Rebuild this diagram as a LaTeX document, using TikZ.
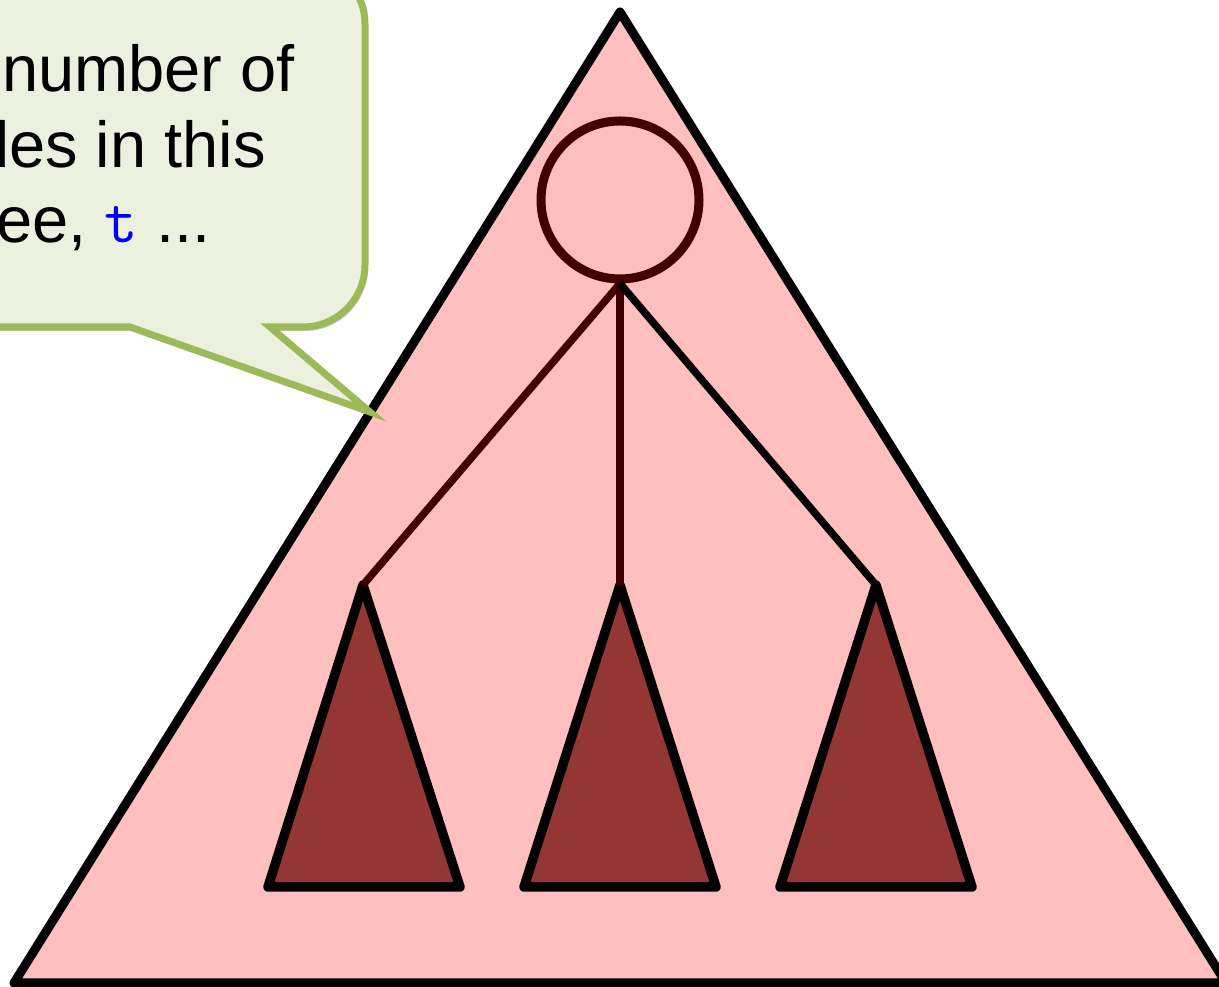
\documentclass[tikz,border=0pt]{standalone}
\usepackage{fontspec}
\setmainfont{Liberation Sans}
\usetikzlibrary{shadows}
\definecolor{pinkfill}{HTML}{FFBFBF}
\definecolor{subfill}{HTML}{943634}
\definecolor{darkbrown}{HTML}{400000}
\definecolor{calloutfill}{HTML}{EBF1DE}
\definecolor{calloutline}{HTML}{9BBB59}
\definecolor{codeblue}{HTML}{0000FF}
\tikzset{
  bigtree/.style={draw=black, fill=pinkfill, line width=9pt, line join=round},
  subtree/.style={draw=black, fill=subfill, line width=9.5pt, line join=round},
  rootnode/.style={circle, draw=darkbrown, fill=pinkfill, line width=9pt, minimum size=158pt, inner sep=0pt},
  edgebrown/.style={draw=darkbrown, line width=7.5pt},
  edgeblack/.style={draw=black, line width=7.5pt},
  callout/.style={draw=calloutline, fill=calloutfill, line width=7pt, line join=miter},
  callouttext/.style={anchor=base west, inner sep=0pt, font=\fontsize{65}{75}\selectfont}
}
\begin{document}
\begin{tikzpicture}[x=1pt,y=1pt]
\useasboundingbox (0,0) rectangle (1219,987);
% big triangle
\coordinate (top) at (620,975);
\coordinate (bl) at (14,4);
\coordinate (br) at (1226,4);
\path[bigtree] (top) -- (bl) -- (br) -- cycle;
% callout
\coordinate (tip) at (370,575);
\path[callout, drop shadow={shadow xshift=2pt, shadow yshift=-4pt, opacity=0.35, fill=black!60}]
  (-60,1025) -- (303,1025) arc[start angle=90, end angle=0, radius=62pt]
  -- (365,722) arc[start angle=0, end angle=-90, radius=62pt]
  -- (270,660) -- (tip) -- (130,660) -- (-60,660) -- cycle;
\node[callouttext] (t1) at (2,895) {number of};
\node[callouttext] (t2) at (-27,819) {des in this};
\node[callouttext] (t3) at (-4,744) {ee, {\ttfamily\color{codeblue}t} ...};
% subtrees
\coordinate (a1) at (363,402);
\coordinate (a2) at (620,402);
\coordinate (a3) at (876,402);
\path[subtree] (a1) -- (268,100) -- (460,100) -- cycle;
\path[subtree] (a2) -- (524,100) -- (716,100) -- cycle;
\path[subtree] (a3) -- (780,100) -- (972,100) -- cycle;
% root and connectors
\node[rootnode] (root) at (620,787) {};
\draw[edgebrown] (root.south) -- (a1);
\draw[edgebrown] (root.south) -- (a2);
\draw[edgeblack] (root.south) -- (a3);
\end{tikzpicture}
\end{document}
